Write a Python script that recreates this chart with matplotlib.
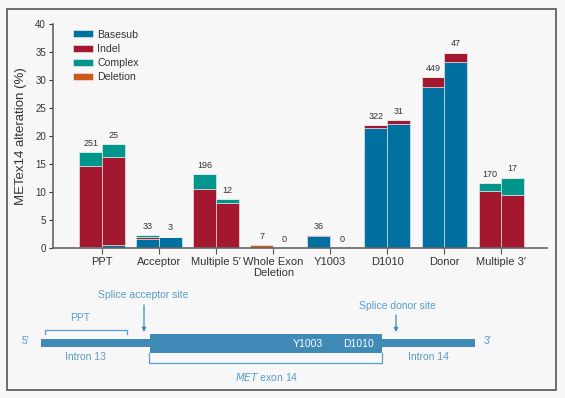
import numpy as np
import matplotlib
matplotlib.use("Agg")
import matplotlib.pyplot as plt
from matplotlib.patches import Rectangle

plt.rcParams['font.family'] = ['Liberation Sans', 'DejaVu Sans']

# ---------------- data ----------------
categories = ["PPT", "Acceptor", "Multiple 5\u2032", "Whole Exon\nDeletion",
              "Y1003", "D1010", "Donor", "Multiple 3\u2032"]
series_names = ["Basesub", "Indel", "Complex", "Deletion"]

# left bar of each pair
basesub_a  = [0.3, 1.6, 0.0, 0.0, 2.2, 21.4, 28.75, 0.0]
indel_a    = [14.4, 0.47, 10.65, 0.0, 0.2, 0.55, 1.75, 10.3]
complex_a  = [2.4, 0.23, 2.65, 0.0, 0.0, 0.0, 0.0, 1.3]
deletion_a = [0.0, 0.0, 0.0, 0.6, 0.0, 0.0, 0.0, 0.0]
counts_a   = [251, 33, 196, 7, 36, 322, 449, 170]

# right bar of each pair
basesub_b  = [0.6, 2.1, 0.0, 0.0, 0.0, 22.1, 33.3, 0.0]
indel_b    = [15.65, 0.0, 8.0, 0.0, 0.0, 0.8, 1.6, 9.5]
complex_b  = [2.35, 0.0, 0.8, 0.0, 0.0, 0.0, 0.0, 3.1]
deletion_b = [0.0, 0.0, 0.0, 0.0, 0.0, 0.0, 0.0, 0.0]
counts_b   = [25, 3, 12, 0, 0, 31, 47, 17]

yticks = [0, 5, 10, 15, 20, 25, 30, 35, 40]

colors = ["#0070A1", "#A3182F", "#00968B", "#C95A1C"]
bg = "#F7F7F7"
txt_dark = "#333333"
diag_col = "#3F8AB6"
diag_txt = "#5A9CCB"

W, H = 565, 398
fig = plt.figure(figsize=(W / 100, H / 100), dpi=100, facecolor=bg)

# ---------------- bar chart ----------------
ax = fig.add_axes([53 / W, (H - 248.3) / H, 494 / W, 224.3 / H])
ax.set_facecolor('none')
x = np.arange(len(categories))
bw = 0.4
for offs, stacks, counts in [(-bw / 2, [basesub_a, indel_a, complex_a, deletion_a], counts_a),
                             (bw / 2, [basesub_b, indel_b, complex_b, deletion_b], counts_b)]:
    bottom = np.zeros(len(categories))
    for i, vals in enumerate(stacks):
        vals = np.array(vals)
        ax.bar(x + offs, vals, bw, bottom=bottom, color=colors[i],
               edgecolor="#F2F2F2", linewidth=0.4,
               label=series_names[i] if offs < 0 else None)
        bottom = bottom + vals
    for xi, top, c in zip(x + offs, bottom, counts):
        ax.annotate(str(c), (xi, top), xytext=(0, 3), textcoords="offset points",
                    ha="center", va="bottom", fontsize=6.5, color=txt_dark)

ax.set_xlim(-0.86, 7.8)
ax.set_ylim(0, 40)
ax.set_yticks(yticks)
ax.set_xticks(x)
ax.set_xticklabels(categories, fontsize=8, color=txt_dark, linespacing=1.15)
ax.tick_params(axis='y', labelsize=7, colors=txt_dark, length=3, width=0.8, pad=2)
ax.tick_params(axis='x', length=4, width=0.8, pad=2, colors="#555555")
for lab in ax.get_xticklabels():
    lab.set_color(txt_dark)
ax.set_ylabel("METex14 alteration (%)", fontsize=9.5, color=txt_dark, labelpad=6)
for s in ["top", "right"]:
    ax.spines[s].set_visible(False)
for s in ["left", "bottom"]:
    ax.spines[s].set_color("#666666")
    ax.spines[s].set_linewidth(1.2)

leg = ax.legend(loc="upper left", bbox_to_anchor=(0.04, 0.975), frameon=False,
                fontsize=7.6, handlelength=1.9, handleheight=0.65,
                handletextpad=0.4, labelspacing=0.4, borderpad=0, borderaxespad=0)
for t in leg.get_texts():
    t.set_color(txt_dark)

# ---------------- schematic (pixel coordinates) ----------------
d = fig.add_axes([0, 0, 1, 1], zorder=-1)
d.set_xlim(0, W)
d.set_ylim(H, 0)
d.axis("off")
d.patch.set_visible(False)

# frame
d.add_patch(Rectangle((7, 9), 549, 381, fill=False, edgecolor="#555555", linewidth=1.2))

# intron line and exon box
d.add_patch(Rectangle((41, 339), 434, 8, facecolor=diag_col, edgecolor="none"))
d.add_patch(Rectangle((150, 334), 232, 19, facecolor=diag_col, edgecolor="none"))

fs = 7.5
d.text(25, 341, "5\u2032", color=diag_txt, fontsize=fs, ha="center", va="center")
d.text(488, 341, "3\u2032", color=diag_txt, fontsize=fs, ha="center", va="center")
d.text(308, 344, "Y1003", color="white", fontsize=fs, ha="center", va="center")
d.text(358, 344, "D1010", color="white", fontsize=fs, ha="center", va="center")
d.text(85, 357, "Intron 13", color=diag_txt, fontsize=fs, ha="center", va="center")
d.text(428, 357, "Intron 14", color=diag_txt, fontsize=fs, ha="center", va="center")

# exon bracket
d.plot([149, 149, 382, 382], [353, 363, 363, 353], color=diag_txt, lw=0.9)
d.text(267, 377, r"$\it{MET}$" + " exon 14", color=diag_txt, fontsize=fs,
       ha="center", va="center")

# PPT bracket
d.plot([45, 45, 127, 127], [334, 330, 330, 334], color=diag_txt, lw=0.9)
d.text(80, 318, "PPT", color=diag_txt, fontsize=fs, ha="center", va="center")

# splice sites
d.text(143, 295, "Splice acceptor site", color=diag_txt, fontsize=fs, ha="center", va="center")
d.annotate("", xy=(144, 332), xytext=(144, 305),
           arrowprops=dict(arrowstyle="-|>", color=diag_col, lw=0.9,
                           mutation_scale=6, shrinkA=0, shrinkB=0))
d.text(397, 306, "Splice donor site", color=diag_txt, fontsize=fs, ha="center", va="center")
d.annotate("", xy=(396, 332), xytext=(396, 315),
           arrowprops=dict(arrowstyle="-|>", color=diag_col, lw=0.9,
                           mutation_scale=6, shrinkA=0, shrinkB=0))

fig.savefig("out.png", dpi=100, facecolor=bg)
